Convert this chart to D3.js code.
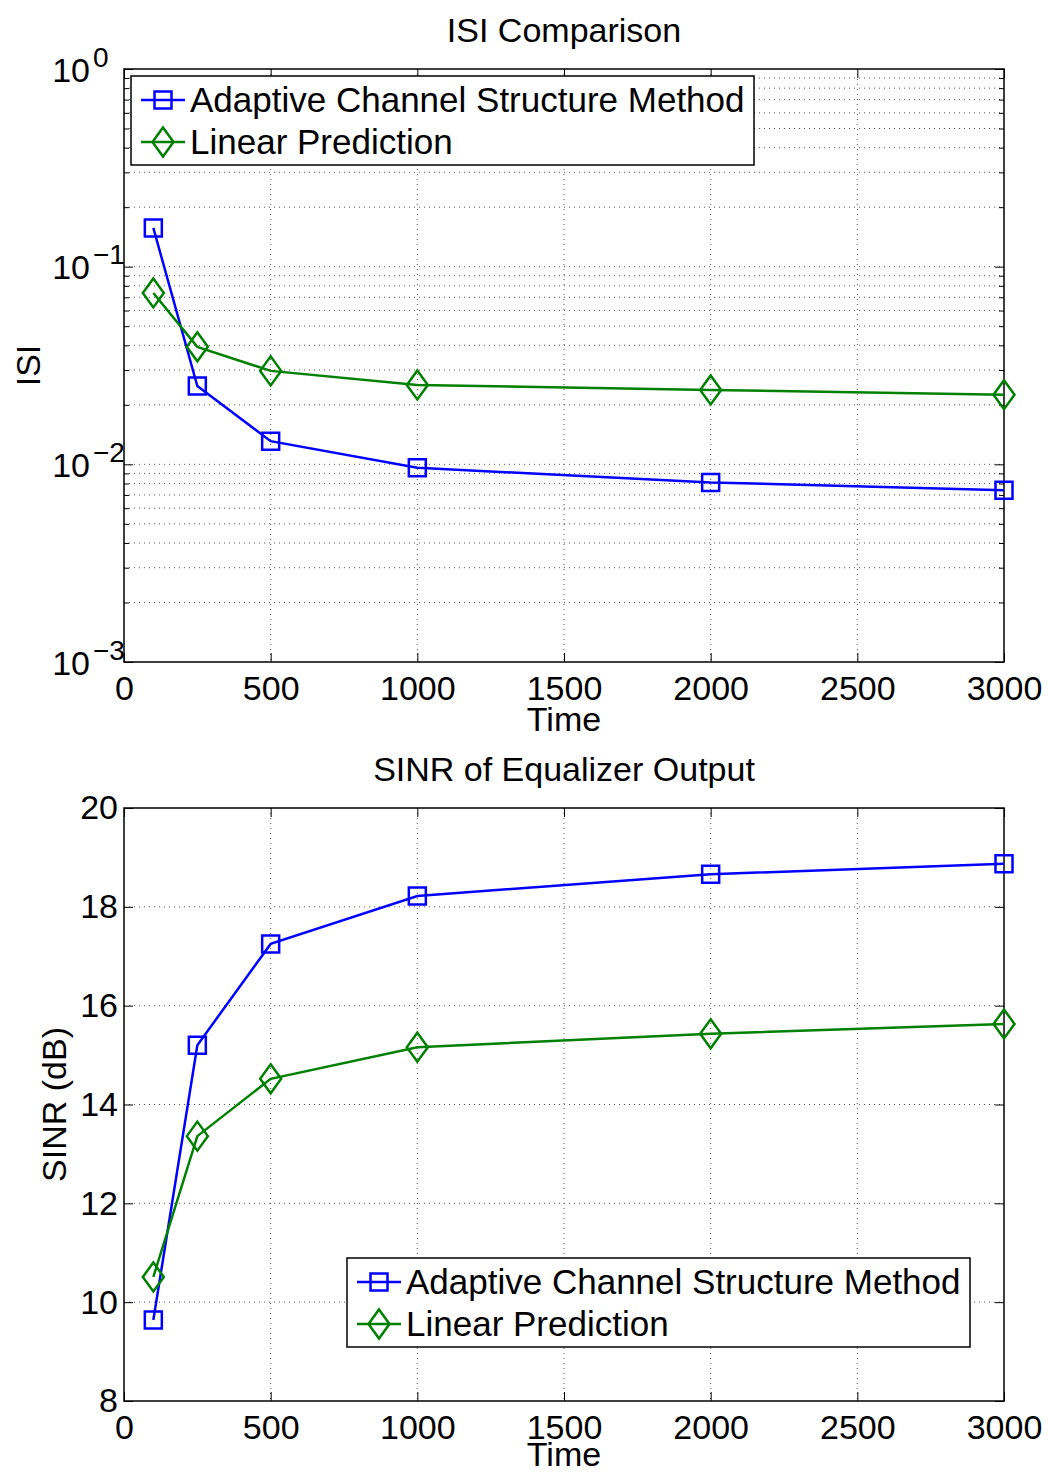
<!DOCTYPE html>
<html>
<head>
<meta charset="utf-8">
<script src="https://cdn.jsdelivr.net/npm/d3@7"></script>
<style>
body { margin: 0; background: #fff; }
text { font-family: "Liberation Sans", Arial, Helvetica, sans-serif; fill: #000; }
</style>
</head>
<body>
<div id="chart-area"></div>
<script>
// data
var times = [100, 250, 500, 1000, 2000, 3000];
var isiAdaptive = [0.157, 0.0249, 0.0131, 0.0096, 0.0081, 0.0074];
var isiLinear = [0.0736, 0.0393, 0.0297, 0.0252, 0.0238, 0.0225];
var sinrAdaptive = [9.64, 15.20, 17.25, 18.22, 18.66, 18.87];
var sinrLinear = [10.51, 13.36, 14.52, 15.16, 15.43, 15.63];

var xTicks = [0, 500, 1000, 1500, 2000, 2500, 3000];
var isiExponents = [-3, -2, -1, 0];
var sinrTicks = [8, 10, 12, 14, 16, 18, 20];

var seriesNames = ["Adaptive Channel Structure Method", "Linear Prediction"];
var seriesColors = ["#0000ff", "#008000"];
var seriesMarkers = ["square", "diamond"];

var W = 1048, H = 1475;
var left = 124, right = 1004;
var fontSize = 34;

var svg = d3.select("#chart-area")
	.append("svg")
		.attr("width", W)
		.attr("height", H);

var x = d3.scaleLinear()
	.domain([0, 3000])
	.range([left, right]);

function markerPath(type) {
	if (type == "square") return "M-8.5,-8.5H8.5V8.5H-8.5Z";
	return "M0,-14.5L10.5,0L0,14.5L-10.5,0Z";
}

function drawPanel(opt) {
	var g = svg.append("g");
	var y = opt.y;
	var top = opt.top, bottom = opt.bottom;

	// dotted grid
	var grid = g.append("g")
		.attr("stroke", "#555")
		.attr("stroke-width", 1)
		.attr("stroke-dasharray", "1,4");
	xTicks.slice(1, -1).forEach(function(t){
		grid.append("line")
			.attr("x1", x(t)).attr("x2", x(t))
			.attr("y1", top).attr("y2", bottom);
	});
	opt.gridValues.forEach(function(v){
		if (Math.abs(y(v) - top) < 1 || Math.abs(y(v) - bottom) < 1) return;
		grid.append("line")
			.attr("x1", left).attr("x2", right)
			.attr("y1", y(v)).attr("y2", y(v));
	});

	// axes with inward ticks on all sides
	var xAxis = d3.axisBottom(x)
		.tickValues(xTicks)
		.tickFormat(function(d){ return String(d); })
		.tickSizeInner(-9).tickSizeOuter(0)
		.tickPadding(14);
	g.append("g")
		.attr("transform", "translate(0," + bottom + ")")
		.call(xAxis);
	g.append("g")
		.attr("transform", "translate(0," + top + ")")
		.call(d3.axisTop(x).tickValues(xTicks).tickSizeInner(-9).tickSizeOuter(0).tickFormat(""));

	var yAxis = d3.axisLeft(y)
		.tickValues(opt.yTicks)
		.tickFormat(opt.tickFormat || function(d){ return String(d); })
		.tickSizeInner(-9).tickSizeOuter(0)
		.tickPadding(6);
	var gy = g.append("g")
		.attr("transform", "translate(" + left + ",0)")
		.call(yAxis);
	g.append("g")
		.attr("transform", "translate(" + right + ",0)")
		.call(d3.axisRight(y).tickValues(opt.yTicks).tickSizeInner(-9).tickSizeOuter(0).tickFormat(""));

	if (opt.minorTicks) {
		g.append("g")
			.attr("transform", "translate(" + left + ",0)")
			.call(d3.axisLeft(y).tickValues(opt.minorTicks).tickSizeInner(-5).tickSizeOuter(0).tickFormat(""));
		g.append("g")
			.attr("transform", "translate(" + right + ",0)")
			.call(d3.axisRight(y).tickValues(opt.minorTicks).tickSizeInner(-5).tickSizeOuter(0).tickFormat(""));
	}

	g.selectAll(".domain").remove();
	g.selectAll(".tick line").attr("stroke", "#000").attr("stroke-width", 1);
	g.selectAll(".tick text")
		.attr("font-size", fontSize)
		.attr("font-family", "Liberation Sans, Arial, sans-serif")
		.attr("fill", "#000");

	// box
	g.append("rect")
		.attr("x", left).attr("y", top)
		.attr("width", right - left).attr("height", bottom - top)
		.attr("fill", "none")
		.attr("stroke", "#000")
		.attr("stroke-width", 1.5);

	if (opt.superscript) opt.superscript(gy);

	// title and labels
	g.append("text")
		.attr("x", (left + right) / 2)
		.attr("y", top - 27)
		.attr("text-anchor", "middle")
		.attr("font-size", fontSize)
		.text(opt.title);
	g.append("text")
		.attr("x", (left + right) / 2)
		.attr("y", bottom + opt.xLabelOffset)
		.attr("text-anchor", "middle")
		.attr("font-size", fontSize)
		.text("Time");
	g.append("text")
		.attr("transform", "translate(" + opt.yLabelX + "," + (top + bottom) / 2 + ") rotate(-90)")
		.attr("text-anchor", "middle")
		.attr("font-size", fontSize)
		.text(opt.yLabel);

	// series
	opt.series.forEach(function(vals, i){
		var pts = times.map(function(t, j){ return [t, vals[j]]; });
		var line = d3.line()
			.x(function(d){ return x(d[0]); })
			.y(function(d){ return y(d[1]); });
		g.append("path")
			.attr("d", line(pts))
			.attr("fill", "none")
			.attr("stroke", seriesColors[i])
			.attr("stroke-width", 2.5);
		g.selectAll(".m" + i)
			.data(pts)
			.enter().append("path")
				.attr("class", "m" + i)
				.attr("transform", function(d){ return "translate(" + x(d[0]) + "," + y(d[1]) + ")"; })
				.attr("d", markerPath(seriesMarkers[i]))
				.attr("fill", "none")
				.attr("stroke", seriesColors[i])
				.attr("stroke-width", 2.5);
	});

	// legend
	var lg = g.append("g")
		.attr("transform", "translate(" + opt.legendX + "," + opt.legendY + ")");
	lg.append("rect")
		.attr("width", 623).attr("height", 89)
		.attr("fill", "#fff")
		.attr("stroke", "#000")
		.attr("stroke-width", 1.5);
	seriesNames.forEach(function(name, i){
		var row = lg.append("g")
			.attr("transform", "translate(0," + (24 + i * 42) + ")");
		row.append("line")
			.attr("x1", 10).attr("x2", 54)
			.attr("stroke", seriesColors[i])
			.attr("stroke-width", 2.5);
		row.append("path")
			.attr("transform", "translate(32,0)")
			.attr("d", markerPath(seriesMarkers[i]))
			.attr("fill", "none")
			.attr("stroke", seriesColors[i])
			.attr("stroke-width", 2.5);
		row.append("text")
			.attr("x", 59)
			.attr("y", 12)
			.attr("font-size", 35)
			.text(name);
	});
}

// top panel: ISI, log scale
var isiTicks = isiExponents.map(function(e){ return Math.pow(10, e); });
var isiMinor = [];
isiExponents.slice(0, -1).forEach(function(e){
	for (var k = 2; k <= 9; k++) isiMinor.push(k * Math.pow(10, e));
});

var yIsi = d3.scaleLog()
	.domain([1e-3, 1])
	.range([662, 69]);

drawPanel({
	top: 69, bottom: 662,
	y: yIsi,
	yTicks: isiTicks,
	minorTicks: isiMinor,
	gridValues: isiTicks.concat(isiMinor),
	tickFormat: function(){ return ""; },
	superscript: function(gy){
		gy.selectAll(".tick").each(function(d, i){
			var t = d3.select(this);
			t.append("text")
				.attr("x", -34)
				.attr("y", 12)
				.attr("text-anchor", "end")
				.attr("font-size", fontSize)
				.text("10");
			t.append("text")
				.attr("x", -31)
				.attr("y", -3)
				.attr("text-anchor", "start")
				.attr("font-size", 28)
				.text(isiExponents[i] < 0 ? "\u2212" + (-isiExponents[i]) : isiExponents[i]);
		});
	},
	title: "ISI Comparison",
	yLabel: "ISI",
	yLabelX: 40,
	xLabelOffset: 69,
	series: [isiAdaptive, isiLinear],
	legendX: 131, legendY: 76
});

// bottom panel: SINR
var ySinr = d3.scaleLinear()
	.domain([8, 20])
	.range([1401, 808]);

drawPanel({
	top: 808, bottom: 1401,
	y: ySinr,
	yTicks: sinrTicks,
	gridValues: sinrTicks,
	title: "SINR of Equalizer Output",
	yLabel: "SINR (dB)",
	yLabelX: 66,
	xLabelOffset: 65,
	series: [sinrAdaptive, sinrLinear],
	legendX: 347, legendY: 1258
});
</script>
</body>
</html>
